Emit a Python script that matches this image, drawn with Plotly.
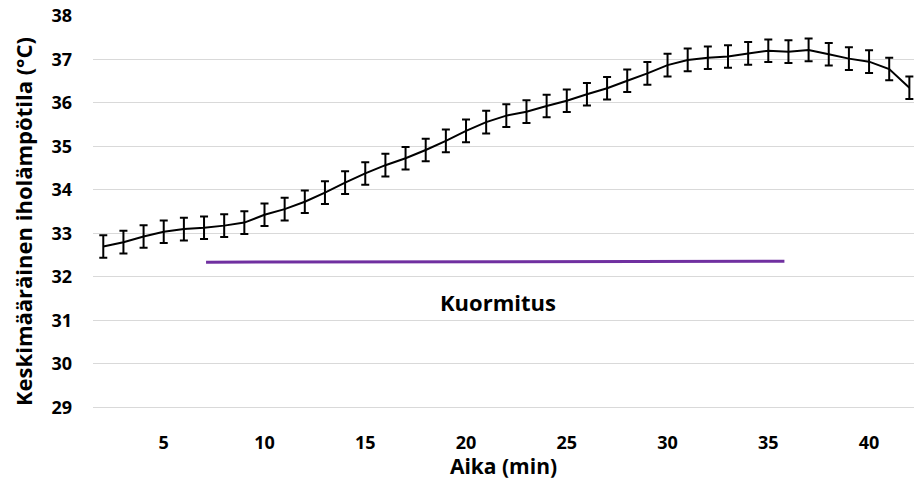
import plotly.graph_objects as go

# Mean skin temperature (°C) per minute, with error bars
aika = list(range(2, 43))
iholampotila = [
    32.70, 32.80, 32.93, 33.04, 33.10, 33.13, 33.18, 33.25,
    33.43, 33.56, 33.73, 33.94, 34.17, 34.38, 34.57, 34.73,
    34.92, 35.13, 35.36, 35.56, 35.71, 35.80, 35.93, 36.05,
    36.20, 36.34, 36.51, 36.68, 36.87, 36.99, 37.04, 37.07,
    37.14, 37.20, 37.18, 37.22, 37.12, 37.02, 36.95, 36.78, 36.35,
]
virhe = [0.26] * len(aika)

# Load period marker
kuormitus_x = [7.1, 35.8]
kuormitus_y = [32.34, 32.36]
kuormitus_label = "Kuormitus"
kuormitus_label_pos = (21.6, 31.42)

x_ticks = [5, 10, 15, 20, 25, 30, 35, 40]
y_ticks = [29, 30, 31, 32, 33, 34, 35, 36, 37, 38]

FONT = "Open Sans"

fig = go.Figure()
fig.add_trace(go.Scatter(
    x=aika, y=iholampotila, mode="lines",
    line=dict(color="#000000", width=2),
    error_y=dict(type="data", array=virhe, visible=True,
                 color="#000000", thickness=2, width=4),
    hoverinfo="x+y", showlegend=False,
))
fig.add_trace(go.Scatter(
    x=kuormitus_x, y=kuormitus_y, mode="lines",
    line=dict(color="#7030A0", width=3),
    showlegend=False,
))
fig.add_annotation(
    x=kuormitus_label_pos[0], y=kuormitus_label_pos[1], text=kuormitus_label,
    showarrow=False, font=dict(family=FONT, size=22, color="#000000", weight="bold"),
)

fig.update_layout(
    width=914, height=480,
    margin=dict(l=93, r=0, t=16, b=53),
    paper_bgcolor="#ffffff", plot_bgcolor="#ffffff",
    font=dict(family=FONT, color="#000000"),
    xaxis=dict(
        range=[1.49, 42.23], tickvals=x_ticks, showgrid=False, zeroline=False,
        showline=False, ticks="", ticklabelstandoff=3,
        tickfont=dict(family=FONT, size=18, weight="bold"),
        title=dict(text="Aika (min)", standoff=2,
                   font=dict(family=FONT, size=21, weight="bold")),
    ),
    yaxis=dict(
        range=[28.55, 38], tickvals=y_ticks, showgrid=True,
        gridcolor="#d9d9d9", gridwidth=1, zeroline=False, showline=False,
        ticks="", ticklabelstandoff=20,
        tickfont=dict(family=FONT, size=18, weight="bold"),
        title=dict(text="Keskimääräinen iholämpötila (°C)", standoff=12,
                   font=dict(family=FONT, size=22, weight="bold")),
    ),
)

fig.write_html("out.html")
